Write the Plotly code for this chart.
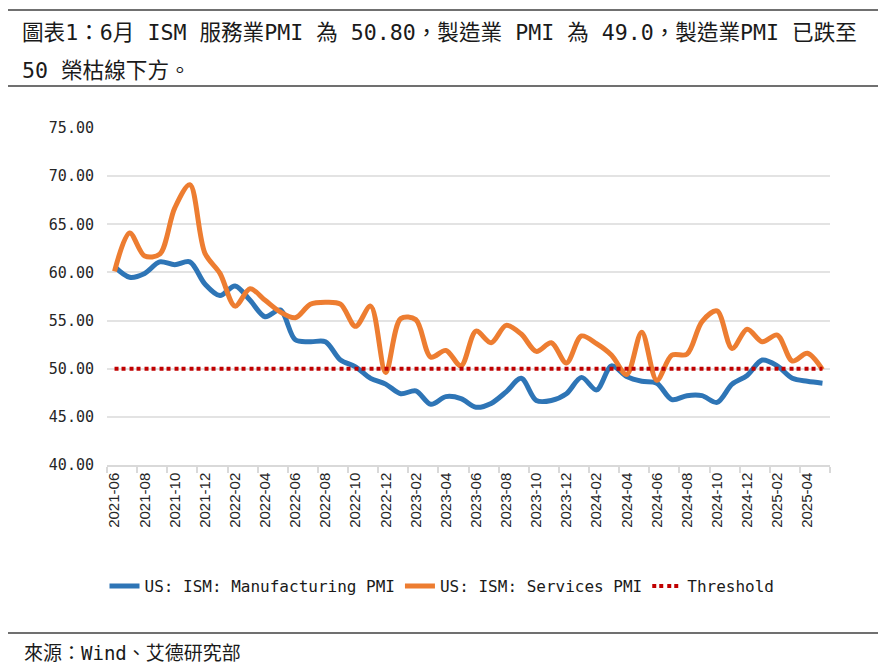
import plotly.graph_objects as go

months = [
    "2021-06", "2021-07", "2021-08", "2021-09", "2021-10", "2021-11", "2021-12",
    "2022-01", "2022-02", "2022-03", "2022-04", "2022-05", "2022-06", "2022-07",
    "2022-08", "2022-09", "2022-10", "2022-11", "2022-12",
    "2023-01", "2023-02", "2023-03", "2023-04", "2023-05", "2023-06", "2023-07",
    "2023-08", "2023-09", "2023-10", "2023-11", "2023-12",
    "2024-01", "2024-02", "2024-03", "2024-04", "2024-05", "2024-06", "2024-07",
    "2024-08", "2024-09", "2024-10", "2024-11", "2024-12",
    "2025-01", "2025-02", "2025-03", "2025-04", "2025-05",
]

manufacturing = [
    60.6, 59.5, 59.9, 61.1, 60.8, 61.1, 58.8,
    57.6, 58.6, 57.1, 55.4, 56.1, 53.0, 52.8,
    52.8, 50.9, 50.2, 49.0, 48.4,
    47.4, 47.7, 46.3, 47.1, 46.9, 46.0, 46.4,
    47.6, 49.0, 46.7, 46.7, 47.4,
    49.1, 47.8, 50.3, 49.2, 48.7, 48.5, 46.8,
    47.2, 47.2, 46.5, 48.4, 49.3,
    50.9, 50.3, 49.0, 48.7, 48.5,
]

services = [
    60.1, 64.1, 61.7, 61.9, 66.7, 69.1, 62.0,
    59.9, 56.5, 58.3, 57.1, 55.9, 55.3, 56.7,
    56.9, 56.7, 54.4, 56.5, 49.6,
    55.2, 55.1, 51.2, 51.9, 50.3, 53.9, 52.7,
    54.5, 53.6, 51.8, 52.7, 50.6,
    53.4, 52.6, 51.4, 49.4, 53.8, 48.8, 51.4,
    51.5, 54.9, 56.0, 52.1, 54.1,
    52.8, 53.5, 50.8, 51.6, 49.9,
]

threshold = [50.0] * len(months)

y_ticks = [40, 45, 50, 55, 60, 65, 70, 75]

title_lines = [
    "圖表1：6月 ISM 服務業PMI 為 50.80，製造業 PMI 為 49.0，製造業PMI 已跌至",
    "50 榮枯線下方。",
]
source_text = "來源：Wind、艾德研究部"

idx = list(range(len(months)))

fig = go.Figure()
fig.add_trace(go.Scatter(
    x=idx, y=manufacturing, mode="lines", name="US: ISM: Manufacturing PMI",
    line=dict(color="#2E75B6", width=5, shape="spline", smoothing=0.9),
))
fig.add_trace(go.Scatter(
    x=idx, y=services, mode="lines", name="US: ISM: Services PMI",
    line=dict(color="#ED7D31", width=5, shape="spline", smoothing=0.9),
))
fig.add_trace(go.Scatter(
    x=idx, y=threshold, mode="lines", name="Threshold",
    line=dict(color="#C00000", width=4, dash="4px,3px,4px,4px"),
))

L, R, T, B = 107, 54, 128, 207
W, H = 884, 672
pw, ph = W - L - R, H - T - B


def py(p):
    return (H - B - p) / ph


def px(q):
    return (q - L) / pw


shapes = []
for yy in (10, 86, 633):
    shapes.append(dict(type="line", xref="paper", yref="paper",
                       x0=px(8), x1=px(878), y0=py(yy), y1=py(yy),
                       line=dict(color="#404040", width=1.5)))

title_font = dict(family="DejaVu Sans Mono, Noto Sans CJK TC", size=21.6, color="#1a1a1a")
annotations = [
    dict(text=title_lines[0], xref="paper", yref="paper", x=px(20), y=py(33),
         xanchor="left", yanchor="middle", showarrow=False, font=title_font),
    dict(text=title_lines[1], xref="paper", yref="paper", x=px(20), y=py(70),
         xanchor="left", yanchor="middle", showarrow=False, font=title_font),
    dict(text=source_text, xref="paper", yref="paper", x=px(22), y=py(653),
         xanchor="left", yanchor="middle", showarrow=False,
         font=dict(family="DejaVu Sans Mono, Noto Sans CJK TC", size=19, color="#1a1a1a")),
]

fig.update_layout(
    width=W, height=H,
    margin=dict(l=L, r=R, t=T, b=B, pad=0),
    paper_bgcolor="white", plot_bgcolor="white",
    shapes=shapes, annotations=annotations,
    showlegend=True,
    legend=dict(orientation="h", x=px(442), xanchor="center", y=py(586), yanchor="middle",
                font=dict(family="DejaVu Sans Mono", size=16, color="#1a1a1a"),
                itemwidth=30, tracegroupgap=0),
    xaxis=dict(
        range=[-0.5, len(months) - 0.5],
        tickmode="array", tickvals=idx[::2], ticktext=months[::2],
        tickangle=-90, ticks="", showgrid=False, zeroline=False,
        showline=True, linecolor="#D9D9D9", linewidth=1.5,
        tickfont=dict(family="Arial", size=15, color="#262626"),
        minor=dict(tickmode="array", tickvals=[i - 0.5 for i in range(0, len(months) + 1, 2)],
                   ticks="outside", ticklen=6, tickcolor="#D9D9D9", tickwidth=1.5, showgrid=False),
        fixedrange=True,
    ),
    yaxis=dict(
        range=[40, 75], tickmode="array", tickvals=y_ticks, tickformat=".2f",
        showgrid=True, gridcolor="#E3E3E3", gridwidth=1.5, zeroline=False,
        showline=False, ticks="", ticklabelstandoff=12,
        tickfont=dict(family="DejaVu Sans Mono", size=15, color="#262626"),
        fixedrange=True,
    ),
)

fig.write_html("out.html", config={"displayModeBar": False},
               post_script="document.body.style.margin='0px';")
